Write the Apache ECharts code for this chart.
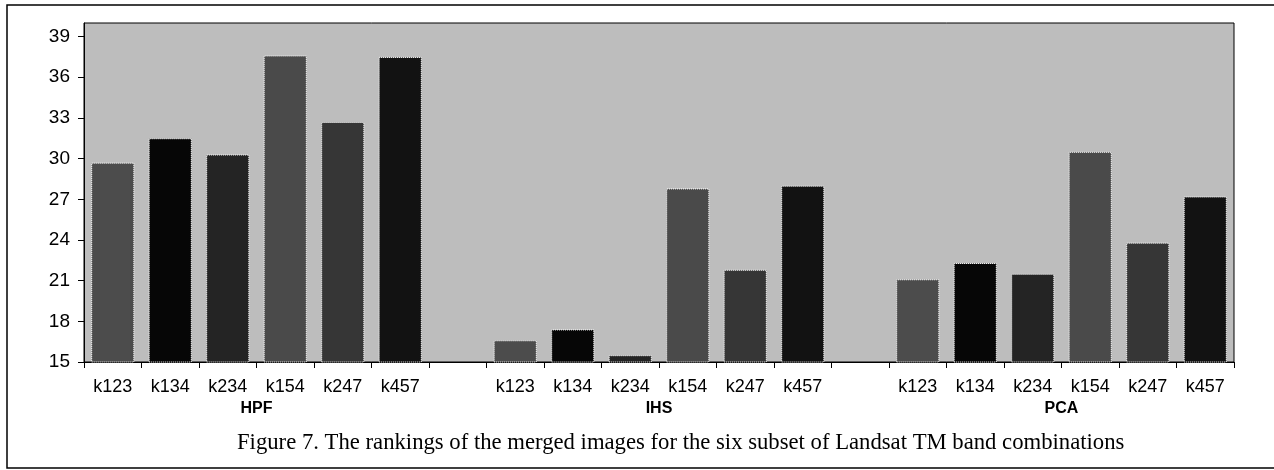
<!DOCTYPE html>
<html>
<head>
<meta charset="utf-8">
<script src="https://cdn.jsdelivr.net/npm/echarts@6/dist/echarts.min.js"></script>
<style>
  html, body { margin: 0; padding: 0; background: #fff; }
  #chart { width: 1274px; height: 470px; }
</style>
</head>
<body>
<div id="chart"></div>
<script>
const bands = ["k123", "k134", "k234", "k154", "k247", "k457"];
const groups = ["HPF", "IHS", "PCA"];
const hpf = [29.7, 31.5, 30.3, 37.6, 32.7, 37.5];
const ihs = [16.6, 17.4, 15.5, 27.8, 21.8, 28.0];
const pca = [21.1, 22.3, 21.5, 30.5, 23.8, 27.2];
const yTicks = [15, 18, 21, 24, 27, 30, 33, 36, 39];

// grey level of each band combination
const bandColors = {
  k123: "#4c4c4c",
  k134: "#060606",
  k234: "#242424",
  k154: "#4a4a4a",
  k247: "#363636",
  k457: "#121212",
};

// 6 bars, an empty slot, 6 bars, an empty slot, 6 bars
const categories = [];
const values = [];
[hpf, ihs, pca].forEach((arr, g) => {
  if (g > 0) { categories.push(""); values.push("-"); }
  bands.forEach((b, i) => { categories.push(b); values.push(arr[i]); });
});
const groupCenters = [3, 10, 17];

const chart = echarts.init(document.getElementById("chart"));
chart.setOption({
  animation: false,
  title: {
    text: "Figure 7. The rankings of the merged images for the six subset of Landsat TM band combinations",
    left: 232,
    top: 427,
    textStyle: { fontFamily: "Liberation Serif", fontSize: 22.7, fontWeight: "normal", color: "#000" },
  },
  graphic: [
    {
      type: "rect",
      shape: { x: 7, y: 5, width: 1290, height: 463 },
      style: { fill: "none", stroke: "#000", lineWidth: 1.5 },
      silent: true,
    },
  ],
  grid: {
    left: 84, right: 40, top: 23, bottom: 108,
    show: true, backgroundColor: "#bdbdbd", borderColor: "#000", borderWidth: 1,
  },
  xAxis: [
    {
      type: "category",
      data: categories,
      axisLine: { lineStyle: { color: "#000", width: 1 } },
      axisTick: { show: true, interval: 0, length: 6, lineStyle: { color: "#000" } },
      axisLabel: {
        interval: 0, margin: 16, color: "#000",
        fontFamily: "Liberation Sans", fontSize: 18,
      },
      splitLine: { show: false },
    },
    {
      type: "value",
      position: "bottom",
      min: 0,
      max: categories.length,
      axisLine: { show: false },
      axisTick: { show: false },
      splitLine: { show: false },
      axisLabel: {
        customValues: groupCenters,
        margin: 39,
        color: "#000",
        fontFamily: "Liberation Sans", fontSize: 16, fontWeight: "bold",
        formatter: (v) => groups[groupCenters.indexOf(v)] || "",
      },
    },
  ],
  yAxis: {
    type: "value",
    min: yTicks[0],
    max: 40,
    interval: 3,
    axisLine: { show: true, lineStyle: { color: "#000", width: 1 } },
    axisTick: { show: true, length: 6, lineStyle: { color: "#000" } },
    axisLabel: {
      showMaxLabel: false, margin: 14, color: "#000",
      fontFamily: "Liberation Sans", fontSize: 19,
    },
    splitLine: { show: false },
  },
  series: [
    {
      type: "bar",
      xAxisIndex: 0,
      data: values,
      barWidth: "75%",
      itemStyle: {
        color: (p) => bandColors[categories[p.dataIndex]] || "#000",
        borderColor: "#ffffff",
        borderWidth: 1,
        borderType: "dotted",
      },
    },
  ],
});
</script>
</body>
</html>
